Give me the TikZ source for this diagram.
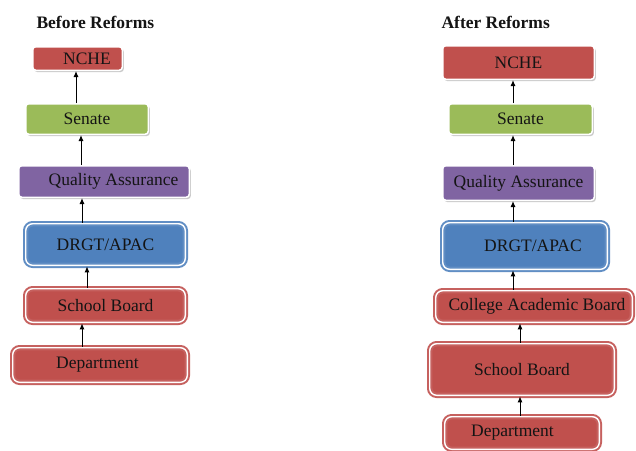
\documentclass[tikz,border=0pt]{standalone}
\usepackage{fontspec}
\setmainfont{Liberation Serif}
\usetikzlibrary{arrows.meta,shadows}
\definecolor{cred}{HTML}{C0504D}
\definecolor{cgreen}{HTML}{9BBB59}
\definecolor{cpurple}{HTML}{8064A2}
\definecolor{cblue}{HTML}{4F81BD}
\definecolor{ctext}{HTML}{141414}
\begin{document}
\begin{tikzpicture}[x=1pt,y=-1pt,
  every node/.style={text=ctext,font=\fontsize{17.5}{20}\selectfont},
  plainbox/.style={fill=#1,draw=white,line width=1.5pt,rounded corners=3pt,inner sep=0pt,
    drop shadow={shadow xshift=1.5pt,shadow yshift=-1.8pt,opacity=0.35,fill=black!60}},
  dblbox/.style={fill=#1,draw=#1!90!white,double=white,double distance=1.4pt,line width=2pt,
    rounded corners=7pt,inner sep=0pt},
  title/.style={anchor=west,font=\fontsize{17.5}{20}\selectfont\bfseries},
  arr/.style={draw=black,line width=1pt,-{Latex[length=6pt,width=5pt]}}]
\useasboundingbox (0,0) rectangle (636,450);
\fill[white] (0,0) rectangle (636,450);

% titles
\node[title] (tL) at (33,22) {Before Reforms};
\node[title] (tR) at (438,22) {After Reforms};

% left column
\node[plainbox=cred,minimum width=89.5pt,minimum height=23.5pt] (ncheL) at (77.5,58.5) {\hspace*{19pt}NCHE};
\node[plainbox=cgreen,minimum width=122.5pt,minimum height=30.5pt] (senL) at (87,119) {Senate};
\node[plainbox=cpurple,minimum width=170.5pt,minimum height=31.5pt] (qaL) at (104,181.5) {\hspace*{19pt}Quality Assurance};
\node[dblbox=cblue,minimum width=159.6pt,minimum height=41.6pt] (drgtL) at (105.5,244.5) {DRGT/APAC};
\node[dblbox=cred,minimum width=159.6pt,minimum height=33.6pt] (sbL) at (105.5,305.5) {School Board};
\node[dblbox=cred,minimum width=174.6pt,minimum height=34.6pt] (depL) at (100,365) {\hspace*{-5pt}Department};

% right column
\node[plainbox=cred,minimum width=151.5pt,minimum height=33.5pt] (ncheR) at (518.5,62.5) {NCHE};
\node[plainbox=cgreen,minimum width=143.5pt,minimum height=30.5pt] (senR) at (520.5,119) {Senate};
\node[plainbox=cpurple,minimum width=151.5pt,minimum height=34.5pt] (qaR) at (518.5,183) {Quality Assurance};
\node[dblbox=cblue,minimum width=164.6pt,minimum height=46.6pt] (drgtR) at (525,246) {\hspace*{16pt}DRGT/APAC};
\node[dblbox=cred,minimum width=196.6pt,minimum height=31.6pt] (colR) at (534,306.5) {\hspace*{6pt}College Academic Board};
\node[dblbox=cred,minimum width=184.6pt,minimum height=51.6pt] (sbR) at (522,369.5) {School Board};
\node[dblbox=cred,minimum width=154.6pt,minimum height=32.6pt] (depR) at (522,433) {\hspace*{-19pt}Department};

% arrow columns
\coordinate (xa) at (76,0);
\coordinate (xb) at (81,0);
\coordinate (xc) at (82,0);
\coordinate (xd) at (87,0);
\coordinate (xe) at (82,0);
\coordinate (xr) at (513,0);
\coordinate (xs) at (520,0);

% left arrows
\draw[arr] (senL.north -| xa) -- (ncheL.south -| xa);
\draw[arr] (qaL.north -| xb) -- (senL.south -| xb);
\draw[arr] (drgtL.north -| xc) -- (qaL.south -| xc);
\draw[arr] (sbL.north -| xd) -- (drgtL.south -| xd);
\draw[arr] (depL.north -| xe) -- (sbL.south -| xe);

% right arrows
\draw[arr] (senR.north -| xr) -- (ncheR.south -| xr);
\draw[arr] (qaR.north -| xr) -- (senR.south -| xr);
\draw[arr] (drgtR.north -| xr) -- (qaR.south -| xr);
\draw[arr] (colR.north -| xr) -- (drgtR.south -| xr);
\draw[arr] (sbR.north -| xs) -- (colR.south -| xs);
\draw[arr] (depR.north -| xs) -- (sbR.south -| xs);
\end{tikzpicture}
\end{document}
